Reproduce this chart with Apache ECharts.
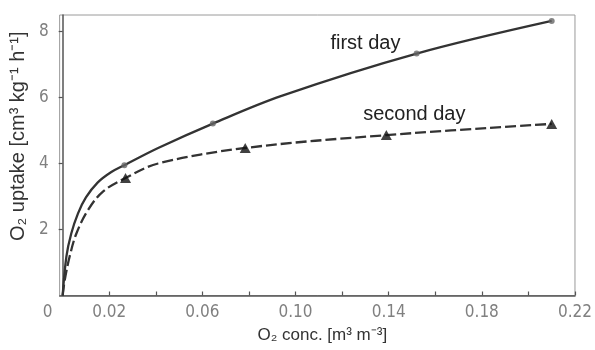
<!DOCTYPE html>
<html>
<head>
<meta charset="utf-8">
<script src="https://cdn.jsdelivr.net/npm/echarts@6/dist/echarts.min.js"></script>
<style>
  html, body { margin: 0; padding: 0; background: #fff; }
  #chart { width: 595px; height: 350px; }
</style>
</head>
<body>
<div id="chart"></div>
<script>
// O2 uptake versus O2 concentration, measured on two successive days.

// Measured points (shown with markers)
const firstDayMeasured = [[0.0265, 3.95], [0.0645, 5.21], [0.152, 7.33], [0.21, 8.32]];
const secondDayMeasured = [[0.027, 3.56], [0.0784, 4.47], [0.139, 4.86], [0.21, 5.2]];

// Further points along each fitted curve (no markers)
const firstDayTrace = [[0, 0], [0.0016, 1.18], [0.0037, 1.88], [0.0066, 2.49], [0.010, 2.97], [0.015, 3.42], [0.0209, 3.74], [0.041, 4.47], [0.094, 6.05]];
const secondDayTrace = [[0, 0], [0.0009, 0.47], [0.003, 1.18], [0.0059, 1.88], [0.0109, 2.59], [0.0173, 3.15], [0.041, 4.0]];

// Axis ticks and labels
const xTickValues = [0.02, 0.04, 0.06, 0.08, 0.10, 0.12, 0.14, 0.16, 0.18, 0.20, 0.22];
const xLabelValues = [0, 0.02, 0.06, 0.10, 0.14, 0.18, 0.22];
const yLabelValues = [2, 4, 6, 8];

const seriesNames = ['first day', 'second day'];
const xAxisTitle = 'O₂ conc. [m³ m⁻³]';
const yAxisTitle = 'O₂ uptake [cm³ kg⁻¹ h⁻¹]';

function curve(trace, measured) {
  return trace.concat(measured).sort((a, b) => a[0] - b[0]);
}

const tickFont = "'Liberation Sans Narrow', 'DejaVu Sans Condensed', 'Liberation Sans', sans-serif";
const textFont = "'Liberation Sans', Arial, sans-serif";

const chart = echarts.init(document.getElementById('chart'), null, { renderer: 'canvas' });

function curveLabel(coord, text) {
  return {
    symbol: 'circle',
    symbolSize: 1,
    silent: true,
    itemStyle: { color: 'transparent' },
    data: [{ coord: coord }],
    label: {
      show: true, position: 'inside', formatter: text,
      fontFamily: textFont, fontSize: 20, color: '#222'
    }
  };
}

chart.setOption({
  animation: false,
  backgroundColor: '#fff',
  grid: {
    left: 58, right: 19, top: 15, bottom: 54.5,
    show: true, borderColor: '#9a9a9a', borderWidth: 1
  },
  xAxis: {
    type: 'value',
    min: -0.0013,
    max: 0.22,
    name: xAxisTitle,
    nameLocation: 'middle',
    nameGap: 28,
    nameTextStyle: { fontFamily: textFont, fontSize: 17, color: '#333', padding: [0, 0, 0, 10] },
    axisLine: { show: true, lineStyle: { color: '#555', width: 1.5 } },
    axisTick: { show: true, inside: true, length: 4, customValues: xTickValues, lineStyle: { color: '#555', width: 1.2 } },
    splitLine: { show: false },
    axisLabel: {
      customValues: xLabelValues,
      margin: 9,
      fontFamily: tickFont,
      fontSize: 17,
      color: '#808080',
      formatter: v => (Math.abs(v) < 1e-9 ? '{z|0}' : v.toFixed(2)),
      rich: { z: { fontFamily: tickFont, fontSize: 17, color: '#808080', padding: [0, 30, 0, 0] } }
    }
  },
  yAxis: {
    type: 'value',
    min: 0,
    max: 8.5,
    name: yAxisTitle,
    nameLocation: 'middle',
    nameGap: 24,
    nameRotate: 90,
    nameTextStyle: { fontFamily: textFont, fontSize: 20, color: '#333', padding: [0, 0, 0, 38] },
    axisLine: { show: true, lineStyle: { color: '#555', width: 1.5 } },
    axisTick: { show: true, inside: false, length: 4, customValues: yLabelValues, lineStyle: { color: '#555', width: 1.2 } },
    splitLine: { show: false },
    axisLabel: {
      customValues: yLabelValues,
      margin: 11,
      fontFamily: tickFont,
      fontSize: 17,
      color: '#808080'
    }
  },
  series: [
    {
      name: seriesNames[0],
      type: 'line',
      data: curve(firstDayTrace, firstDayMeasured),
      smooth: 0.35,
      showSymbol: false,
      lineStyle: { color: '#333', width: 2.3 },
      z: 2,
      markPoint: curveLabel([0.13, 7.65], seriesNames[0])
    },
    {
      name: seriesNames[1],
      type: 'line',
      data: curve(secondDayTrace, secondDayMeasured),
      smooth: 0.35,
      showSymbol: false,
      lineStyle: { color: '#333', width: 2.3, type: [11, 4] },
      z: 2,
      markPoint: curveLabel([0.151, 5.5], seriesNames[1])
    },
    {
      name: seriesNames[0] + ' points',
      type: 'scatter',
      data: firstDayMeasured,
      symbol: 'circle',
      symbolSize: 6,
      itemStyle: { color: '#666' },
      z: 3
    },
    {
      name: seriesNames[1] + ' points',
      type: 'scatter',
      data: secondDayMeasured,
      symbol: 'triangle',
      symbolSize: [11, 10],
      itemStyle: { color: '#111' },
      z: 3
    }
  ]
});
</script>
</body>
</html>
